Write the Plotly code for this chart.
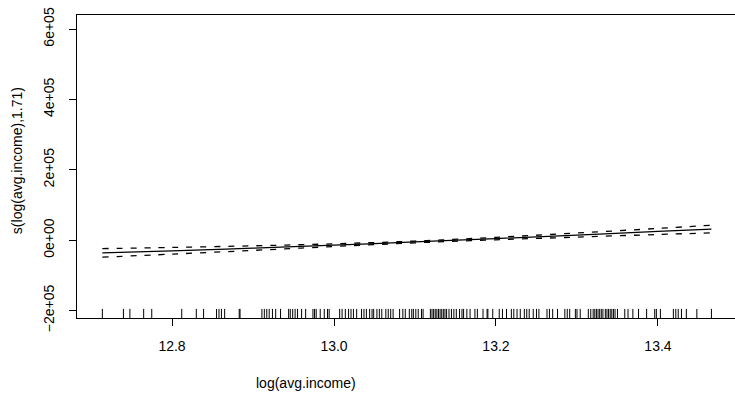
import plotly.graph_objects as go

# Smooth term: x grid, fitted values, and 2*SE half-widths
grid_x = [12.714, 12.8, 12.9, 13.0, 13.1, 13.2, 13.3, 13.4, 13.466]
fit_y = [-36000, -30000, -22400, -14000, -4900, 4700, 14700, 24900, 31700]
band_half = [12200, 9500, 6500, 3800, 2500, 3500, 5800, 8600, 10900]

# Rug: observed log(avg.income) values
rug_x = [
    12.714, 12.740, 12.748, 12.765, 12.775, 12.812, 12.830, 12.839, 12.855, 12.858,
    12.861, 12.865, 12.883, 12.884, 12.911, 12.914, 12.917, 12.920, 12.924, 12.928,
    12.934, 12.944, 12.946, 12.949, 12.952, 12.955, 12.960, 12.965, 12.974, 12.976,
    12.978, 12.983, 12.988, 12.992, 12.994, 13.007, 13.010, 13.014, 13.018, 13.021,
    13.024, 13.028, 13.034, 13.037, 13.040, 13.044, 13.047, 13.049, 13.053, 13.056,
    13.059, 13.064, 13.067, 13.070, 13.073, 13.081, 13.085, 13.088, 13.093, 13.096,
    13.098, 13.101, 13.104, 13.108, 13.110, 13.119, 13.121, 13.123, 13.125, 13.127,
    13.129, 13.131, 13.133, 13.135, 13.137, 13.139, 13.142, 13.145, 13.148, 13.151,
    13.155, 13.158, 13.160, 13.164, 13.168, 13.174, 13.177, 13.184, 13.189, 13.190,
    13.196, 13.204, 13.208, 13.213, 13.219, 13.222, 13.226, 13.230, 13.235, 13.238,
    13.241, 13.246, 13.250, 13.253, 13.263, 13.266, 13.270, 13.276, 13.285, 13.288,
    13.291, 13.298, 13.300, 13.304, 13.314, 13.317, 13.320, 13.322, 13.324, 13.326,
    13.328, 13.330, 13.332, 13.335, 13.337, 13.339, 13.341, 13.343, 13.345, 13.347,
    13.350, 13.359, 13.363, 13.369, 13.376, 13.386, 13.396, 13.398, 13.403, 13.419,
    13.422, 13.425, 13.429, 13.435, 13.448, 13.466,
]

x_ticks = [12.8, 13.0, 13.2, 13.4]
x_tick_labels = ["12.8", "13.0", "13.2", "13.4"]
y_ticks = [-200000, 0, 200000, 400000, 600000]
y_tick_labels = ["\u22122e+05", "0e+00", "2e+05", "4e+05", "6e+05"]

x_title = "log(avg.income)"
y_title = "s(log(avg.income),1.71)"

x_range = [12.6827, 13.4951]
y_range = [-221000, 640000]

FONT = "Liberation Sans, Arial, Helvetica, sans-serif"

upper = [f + b for f, b in zip(fit_y, band_half)]
lower = [f - b for f, b in zip(fit_y, band_half)]

# rug segments from the bottom of the plot, 3% of the y range tall
rug_h = 0.03 * (y_range[1] - y_range[0])
rx, ry = [], []
for v in rug_x:
    rx += [v, v, None]
    ry += [y_range[0], y_range[0] + rug_h, None]

fig = go.Figure()
fig.add_trace(go.Scatter(x=rx, y=ry, mode="lines",
                         line=dict(color="black", width=1), hoverinfo="skip"))
fig.add_trace(go.Scatter(x=grid_x, y=fit_y, mode="lines", line_shape="spline",
                         line=dict(color="black", width=1.3)))
fig.add_trace(go.Scatter(x=grid_x, y=upper, mode="lines", line_shape="spline",
                         line=dict(color="black", width=1.3, dash="6px,8px")))
fig.add_trace(go.Scatter(x=grid_x, y=lower, mode="lines", line_shape="spline",
                         line=dict(color="black", width=1.3, dash="6px,8px")))

fig.update_layout(
    width=735, height=397,
    margin=dict(l=77, r=0, t=15, b=79),
    paper_bgcolor="white", plot_bgcolor="white",
    showlegend=False,
    font=dict(family=FONT, size=14, color="black"),
    xaxis=dict(range=x_range, tickvals=x_ticks, ticktext=x_tick_labels,
               ticks="outside", ticklen=7, tickwidth=1, tickcolor="black",
               showline=True, linecolor="black", linewidth=1, mirror=True,
               showgrid=False, zeroline=False, tickfont=dict(size=14),
               ticklabelstandoff=8),
    yaxis=dict(range=y_range, tickvals=y_ticks, ticktext=y_tick_labels,
               ticks="outside", ticklen=7, tickwidth=1, tickcolor="black",
               showline=True, linecolor="black", linewidth=1, mirror=False,
               showgrid=False, zeroline=False, tickangle=-90,
               tickfont=dict(size=14), ticklabelstandoff=9),
    annotations=[
        dict(text=x_title, xref="paper", yref="paper", x=0.348, y=-0.2145,
             xanchor="center", yanchor="middle", showarrow=False,
             font=dict(size=14)),
        dict(text=y_title, xref="paper", yref="paper", x=-0.0912, y=0.521,
             xanchor="center", yanchor="middle", showarrow=False, textangle=-90,
             font=dict(size=14)),
    ],
)

fig.write_html("out.html")
